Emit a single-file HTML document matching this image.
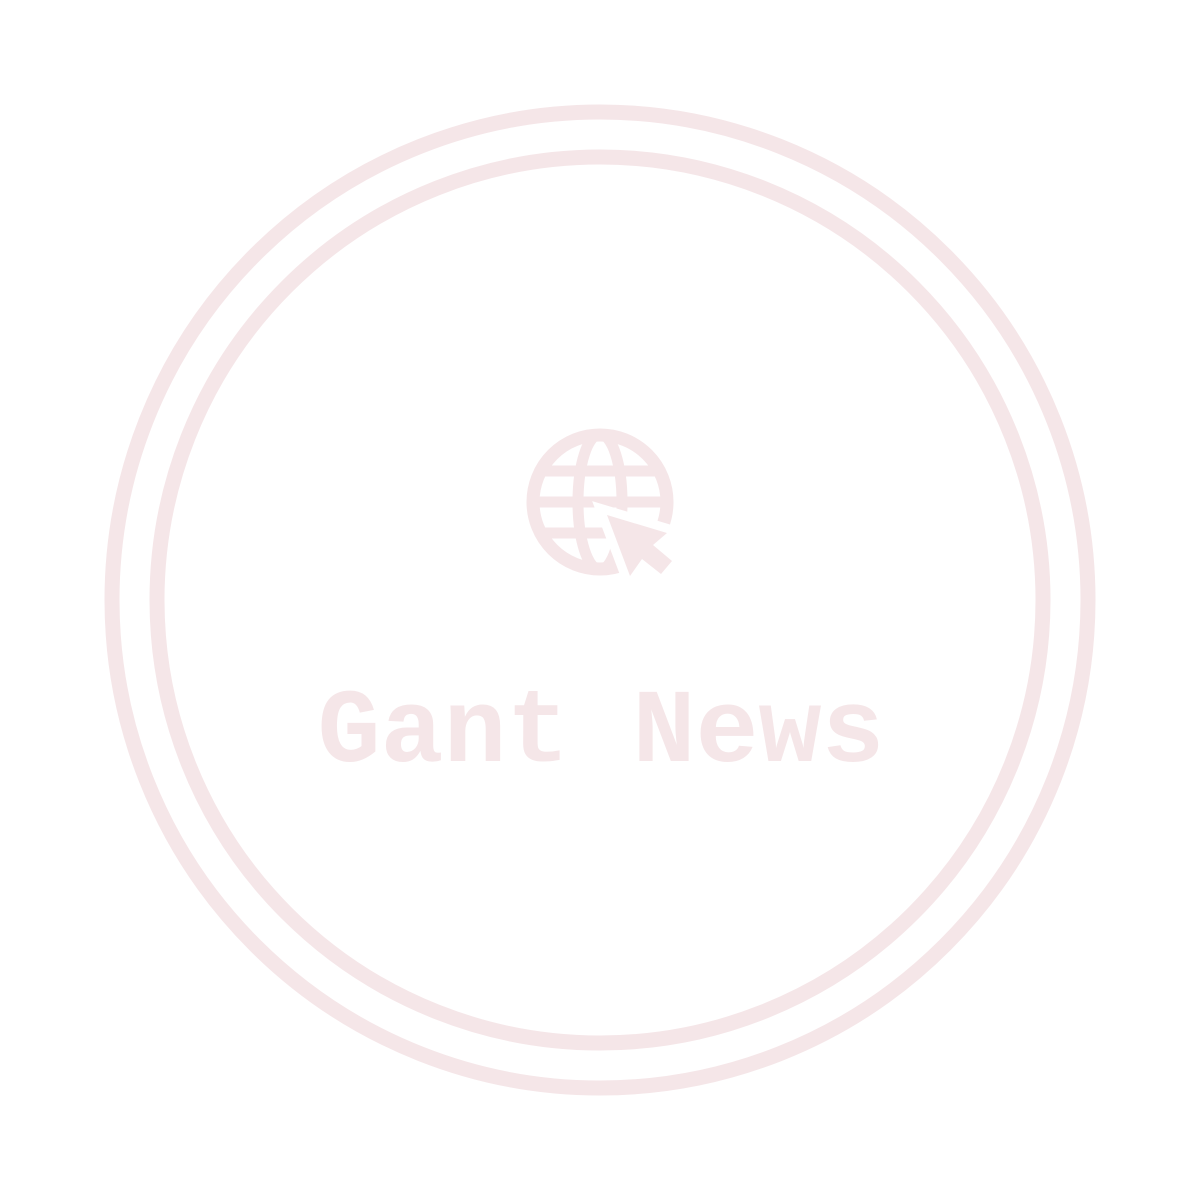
<!DOCTYPE html>
<html><head><meta charset="utf-8"><style>
html,body{margin:0;padding:0;background:#fff;}
svg{display:block;}
</style></head><body>
<svg width="1200" height="1200" viewBox="0 0 1200 1200">
  <rect width="1200" height="1200" fill="#ffffff"/>
  <circle cx="600" cy="600" r="488" fill="none" stroke="#f5e6e8" stroke-width="15"/>
  <circle cx="600" cy="600" r="443" fill="none" stroke="#f5e6e8" stroke-width="15"/>
  <g>
    <clipPath id="gc"><circle cx="600" cy="502" r="70"/></clipPath>
    <circle cx="600" cy="502" r="67" fill="none" stroke="#f5e6e8" stroke-width="13"/>
    <g clip-path="url(#gc)" stroke="#f5e6e8" stroke-width="11" fill="none">
      <line x1="520" y1="471" x2="680" y2="471"/>
      <line x1="520" y1="502" x2="680" y2="502"/>
      <line x1="520" y1="533" x2="680" y2="533"/>
      <ellipse cx="600" cy="502" rx="22" ry="68"/>
    </g>
    <polygon points="607,515 667,533 653,545 672,561 661,574 642,559 630,576" fill="#ffffff" stroke="#ffffff" stroke-width="18" stroke-linejoin="miter"/>
    <polygon points="607,515 667,533 653,545 672,561 661,574 642,559 630,576" fill="#f5e6e8"/>
  </g>
  <text x="601" y="761" text-anchor="middle" font-family="'Liberation Mono', monospace" font-weight="bold" font-size="105" fill="#f5e6e8">Gant News</text>
</svg>
</body></html>
